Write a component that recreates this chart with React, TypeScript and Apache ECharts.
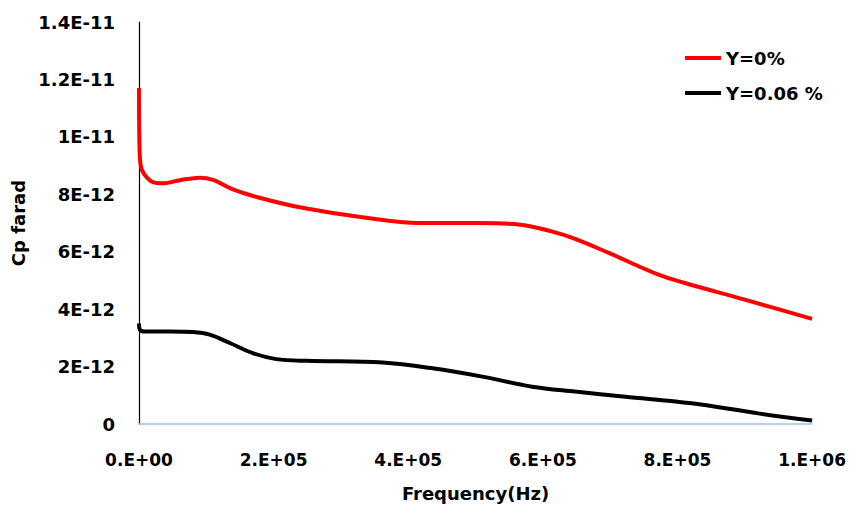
import React, { useEffect, useRef } from "react";
import * as echarts from "echarts";

const freqRed = [0, 800, 3000, 8900, 20700, 35600, 60700, 90400, 110000, 139500, 179000, 238500, 337300, 416300, 505000, 564000, 613000, 649000, 697800, 771900, 811000, 900000, 1000000];
const cpRed = [11.7e-12, 9.6e-12, 8.95e-12, 8.66e-12, 8.42e-12, 8.38e-12, 8.49e-12, 8.58e-12, 8.5e-12, 8.17e-12, 7.88e-12, 7.55e-12, 7.18e-12, 7.0e-12, 7.0e-12, 6.95e-12, 6.71e-12, 6.44e-12, 5.96e-12, 5.2e-12, 4.91e-12, 4.33e-12, 3.66e-12];

const freqBlack = [0, 1500, 8900, 46000, 80000, 105000, 135000, 169000, 204000, 249000, 362000, 436000, 510000, 584000, 648000, 722500, 821000, 920000, 1000000];
const cpBlack = [3.5e-12, 3.28e-12, 3.22e-12, 3.22e-12, 3.2e-12, 3.11e-12, 2.82e-12, 2.47e-12, 2.26e-12, 2.2e-12, 2.14e-12, 1.94e-12, 1.65e-12, 1.3e-12, 1.13e-12, 0.95e-12, 0.72e-12, 0.37e-12, 0.12e-12];

const seriesNames = ["Y=0%", "Y=0.06 %"];

function sci(v: number, yStyle: boolean): string {
  if (v === 0) return yStyle ? "0" : "0.E+00";
  const exp = Math.floor(Math.log10(Math.abs(v)) + 1e-9);
  let m = v / Math.pow(10, exp);
  m = Math.round(m * 10) / 10;
  let ms = m.toFixed(1);
  if (ms.endsWith(".0")) ms = ms.slice(0, -2);
  const sign = exp < 0 ? "-" : "+";
  const e = Math.abs(exp);
  if (yStyle) return `${ms}E${sign}${e}`;
  return `${ms}.E${sign}${e < 10 ? "0" + e : e}`;
}

export default function App() {
  const ref = useRef<HTMLDivElement>(null);
  useEffect(() => {
    if (!ref.current) return;
    const chart = echarts.init(ref.current, undefined, { renderer: "svg" });
    const font = "'DejaVu Sans', sans-serif";
    const txt = { fontFamily: font, fontSize: 18, fontWeight: "bold", color: "#000" };
    chart.setOption({
      animation: false,
      backgroundColor: "#ffffff",
      grid: { left: 139, right: 35, top: 22, bottom: 85, containLabel: false },
      legend: {
        orient: "vertical",
        left: 680,
        top: 44,
        itemGap: 17,
        itemWidth: 36,
        itemHeight: 4,
        icon: "rect",
        textStyle: { ...txt, padding: [0, 0, 0, 0] },
        data: seriesNames,
      },
      xAxis: {
        type: "value",
        min: 0,
        max: 1000000,
        interval: 200000,
        name: "Frequency(Hz)",
        nameLocation: "middle",
        nameGap: 60,
        nameTextStyle: txt,
        axisLine: { show: true, lineStyle: { color: "#9dc3e6", width: 1.5 } },
        axisTick: { show: false },
        splitLine: { show: false },
        axisLabel: {
          margin: 27,
          ...txt,
          fontSize: 17,
          formatter: (v: number) => sci(v, false),
        },
      },
      yAxis: {
        type: "value",
        min: 0,
        max: 1.4e-11,
        interval: 2e-12,
        name: "Cp farad",
        nameLocation: "middle",
        nameRotate: 90,
        nameGap: 110,
        nameTextStyle: txt,
        axisLine: { show: true, lineStyle: { color: "#000", width: 1.2 } },
        axisTick: { show: false },
        splitLine: { show: false },
        axisLabel: {
          margin: 24,
          ...txt,
          formatter: (v: number) => sci(v, true),
        },
      },
      series: [
        {
          name: seriesNames[0],
          type: "line",
          data: freqRed.map((f, i) => [f, cpRed[i]]),
          smooth: 0.35,
          showSymbol: false,
          lineStyle: { color: "#ff0000", width: 4 },
          itemStyle: { color: "#ff0000" },
        },
        {
          name: seriesNames[1],
          type: "line",
          data: freqBlack.map((f, i) => [f, cpBlack[i]]),
          smooth: 0.35,
          showSymbol: false,
          lineStyle: { color: "#000000", width: 4 },
          itemStyle: { color: "#000000" },
        },
      ],
    });
    return () => chart.dispose();
  }, []);
  return (
    <div
      ref={ref}
      style={{ position: "fixed", left: 0, top: 0, width: 849, height: 509, overflow: "hidden" }}
    />
  );
}
